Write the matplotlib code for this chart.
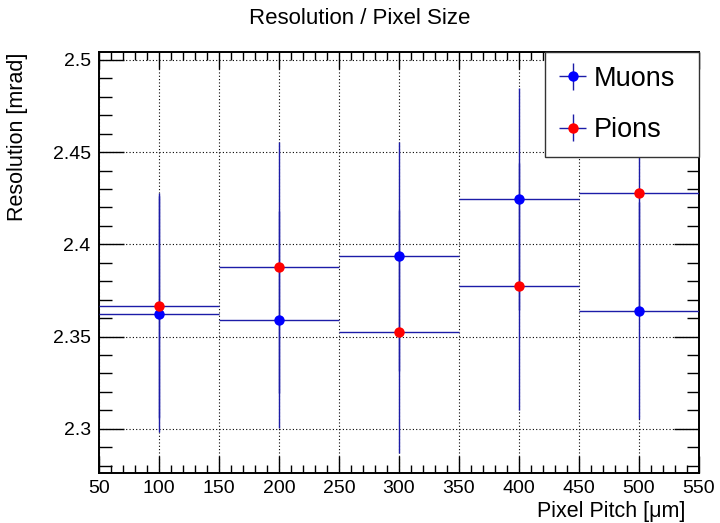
import matplotlib
matplotlib.use("Agg")
import matplotlib.pyplot as plt
from matplotlib.ticker import MultipleLocator
import numpy as np

plt.rcParams['font.family'] = ['Liberation Sans', 'DejaVu Sans']

# pixel pitch bins (centre, half width) and resolution per particle type
pitch = [100, 200, 300, 400, 500]
bin_half = [50, 50, 50, 50, 50]
muon_res = [2.362, 2.3592, 2.3935, 2.4245, 2.3641]
muon_err = [0.064, 0.059, 0.062, 0.060, 0.059]
pion_res = [2.3668, 2.3875, 2.3527, 2.3772, 2.4277]
pion_err = [0.061, 0.068, 0.066, 0.067, 0.062]

fig = plt.figure(figsize=(7.2, 5.23), dpi=100)
ax = fig.add_axes([0.1375, 0.0956, 0.8333, 0.805])

line_col = '#1c1ca8'
m = ax.errorbar(pitch, muon_res, xerr=bin_half, yerr=muon_err, fmt='o', color='#0000ff',
                ecolor=line_col, elinewidth=1.0, capsize=0, markersize=7.5,
                markeredgewidth=0, label='Muons', zorder=3)
p = ax.errorbar(pitch, pion_res, xerr=bin_half, yerr=pion_err, fmt='o', color='#ff0000',
                ecolor=line_col, elinewidth=1.0, capsize=0, markersize=7.5,
                markeredgewidth=0, label='Pions', zorder=3)

ax.set_xlim(50, 550)
ax.set_ylim(2.276, 2.5043)
ax.xaxis.set_major_locator(MultipleLocator(50))
ax.xaxis.set_minor_locator(MultipleLocator(10))
ax.yaxis.set_minor_locator(MultipleLocator(0.01))
ax.set_yticks([2.3, 2.35, 2.4, 2.45, 2.5])
ax.set_yticklabels(['2.3', '2.35', '2.4', '2.45', '2.5'])

ax.grid(True, which='major', linestyle=(0, (1, 2)), color='black', linewidth=0.8)
ax.tick_params(which='both', direction='in', top=True, right=True, labelsize=14, width=1)
ax.tick_params(axis='x', which='major', length=12.5, pad=5)
ax.tick_params(axis='x', which='minor', length=6)
ax.tick_params(axis='y', which='major', length=18, pad=6)
ax.tick_params(axis='y', which='minor', length=9)
for s in ax.spines.values():
    s.set_linewidth(1.4)

# axis titles placed like ROOT: right/top aligned
fig.text(685 / 720, 1 - 512 / 523, 'Pixel Pitch [μm]', ha='right', va='center', fontsize=15.5)
fig.text(18 / 720, 1 - 53 / 523, 'Resolution [mrad]', ha='center', va='top',
         rotation=90, fontsize=15.5)
fig.text(0.5, 0.965, 'Resolution / Pixel Size', ha='center', va='center', fontsize=16)

# legend box fixed to the upper right corner of the frame
leg = ax.legend(handles=[m, p], loc='upper left', bbox_to_anchor=(0.7433, 0.0, 0.2567, 1.0),
                mode='expand', borderaxespad=0, fancybox=False, framealpha=1,
                edgecolor='#333333', fontsize=19.5, handlelength=1.05, handletextpad=0.25,
                labelspacing=0.95, borderpad=0.5)
leg.get_frame().set_linewidth(1.0)

fig.savefig('out.png', dpi=100)
